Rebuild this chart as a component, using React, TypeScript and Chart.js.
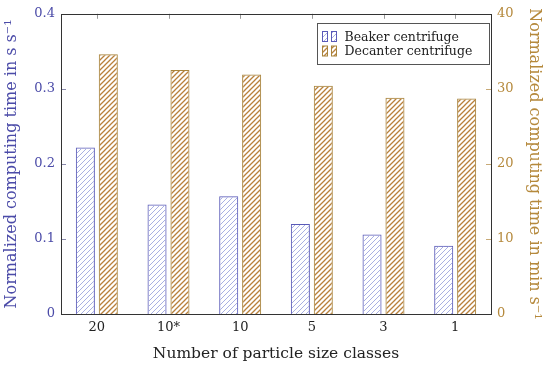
import React, { useEffect, useRef } from "react";
import { Chart, registerables } from "chart.js";

Chart.register(...registerables);

const categories = ["20", "10*", "10", "5", "3", "1"];
const beakerValues = [0.222, 0.146, 0.157, 0.12, 0.106, 0.091];
const decanterValues = [34.6, 32.5, 31.9, 30.4, 28.8, 28.7];
const leftTicks = [0, 0.1, 0.2, 0.3, 0.4];
const rightTicks = [0, 10, 20, 30, 40];
const seriesNames = ["Beaker centrifuge", "Decanter centrifuge"];

const FONT = "'DejaVu Serif', 'Liberation Serif', serif";
const BLUE = "#4b4ba8";
const BROWN = "#b5893c";
const BLUE_BORDER = "#5a5ab8";
const BROWN_BORDER = "#a8843c";

function makeHatch(color: string, size = 5, lw = 1) {
  const c = document.createElement("canvas");
  c.width = size;
  c.height = size;
  const g = c.getContext("2d")!;
  g.strokeStyle = color;
  g.lineWidth = lw;
  g.beginPath();
  g.moveTo(-1, size + 1);
  g.lineTo(size + 1, -1);
  g.moveTo(-1, 1);
  g.lineTo(1, -1);
  g.moveTo(size - 1, size + 1);
  g.lineTo(size + 1, size - 1);
  g.stroke();
  return g.createPattern(c, "repeat")!;
}

const framePlugin = {
  id: "frame",
  afterDatasetsDraw(chart: any) {
    const { ctx, chartArea: a, scales } = chart;
    ctx.save();
    ctx.lineWidth = 1;
    ctx.strokeStyle = "#8888aa";
    ctx.beginPath();
    leftTicks.forEach((t) => {
      const y = Math.round(scales.y.getPixelForValue(t)) + 0.5;
      ctx.moveTo(a.left, y);
      ctx.lineTo(a.left + 5, y);
    });
    ctx.stroke();
    ctx.strokeStyle = "#c8aa77";
    ctx.beginPath();
    rightTicks.forEach((t) => {
      const y = Math.round(scales.y1.getPixelForValue(t)) + 0.5;
      ctx.moveTo(a.right, y);
      ctx.lineTo(a.right - 5, y);
    });
    ctx.stroke();
    ctx.strokeStyle = "#999";
    ctx.beginPath();
    categories.forEach((_, i) => {
      const x = Math.round(scales.x.getPixelForValue(i)) + 0.5;
      ctx.moveTo(x, a.top);
      ctx.lineTo(x, a.top + 5);
    });
    ctx.stroke();
    ctx.strokeStyle = "#333";
    ctx.strokeRect(Math.round(a.left) + 0.5, Math.round(a.top) + 0.5, Math.round(a.right - a.left), Math.round(a.bottom - a.top));

    const bw = 172;
    const bh = 41;
    const bx = Math.round(a.right) - 2 - bw + 0.5;
    const by = Math.round(a.top) + 9 + 0.5;
    ctx.fillStyle = "#fff";
    ctx.fillRect(bx, by, bw, bh);
    ctx.strokeStyle = "#555";
    ctx.strokeRect(bx, by, bw, bh);
    const ds = chart.data.datasets;
    ds.forEach((d: any, i: number) => {
      const cy = by + 13 + i * 14.5;
      [bx + 5, bx + 14].forEach((sx) => {
        ctx.fillStyle = d.backgroundColor;
        ctx.fillRect(sx, cy - 5, 5, 10);
        ctx.strokeStyle = d.borderColor;
        ctx.strokeRect(sx, cy - 5, 5, 10);
      });
      ctx.fillStyle = "#222";
      ctx.font = "12.5px " + FONT;
      ctx.textBaseline = "middle";
      ctx.textAlign = "left";
      ctx.fillText(seriesNames[i], bx + 27, cy + 1);
    });
    ctx.restore();
  },
};

export default function App() {
  const ref = useRef<HTMLCanvasElement | null>(null);
  useEffect(() => {
    document.body.style.margin = "0";
    const chart = new Chart(ref.current!, {
      type: "bar",
      data: {
        labels: categories,
        datasets: [
          {
            label: seriesNames[0],
            data: beakerValues,
            yAxisID: "y",
            backgroundColor: makeHatch("#a9b0e2") as any,
            borderColor: BLUE_BORDER,
            borderWidth: 1,
            categoryPercentage: 0.64,
            barPercentage: 0.83,
          },
          {
            label: seriesNames[1],
            data: decanterValues,
            yAxisID: "y1",
            backgroundColor: makeHatch("#b8803c", 5, 1.3) as any,
            borderColor: BROWN_BORDER,
            borderWidth: 1,
            categoryPercentage: 0.64,
            barPercentage: 0.83,
          },
        ],
      },
      options: {
        animation: false,
        responsive: true,
        maintainAspectRatio: false,
        layout: { padding: { top: 13, left: 0, right: 0, bottom: 0 } },
        plugins: { legend: { display: false }, tooltip: { enabled: false } },
        scales: {
          x: {
            grid: { display: false, drawTicks: false },
            border: { display: false },
            ticks: { color: "#222", font: { family: FONT, size: 13 }, padding: 6 },
            title: {
              display: true,
              text: "Number of particle size classes",
              color: "#222",
              font: { family: FONT, size: 15.5 },
              padding: { top: 2, bottom: 5 },
            },
            afterFit: (s: any) => {
              s.height = 54;
            },
          },
          y: {
            position: "left",
            min: 0,
            max: 0.4,
            grid: { display: false, drawTicks: false },
            border: { display: false },
            ticks: {
              stepSize: 0.1,
              color: BLUE,
              font: { family: FONT, size: 13 },
              padding: 6,
              callback: (v: any) => (v === 0 ? "0" : Number(v).toFixed(1)),
            },
            title: {
              display: true,
              text: "Normalized computing time in s s\u207B\u00B9",
              color: BLUE,
              font: { family: FONT, size: 16 },
              padding: { top: 2, bottom: 0 },
            },
            afterFit: (s: any) => {
              s.width = 61;
            },
          },
          y1: {
            position: "right",
            min: 0,
            max: 40,
            grid: { display: false, drawTicks: false },
            border: { display: false },
            ticks: { stepSize: 10, color: BROWN, font: { family: FONT, size: 13 }, padding: 6 },
            title: {
              display: true,
              text: "Normalized computing time in min s\u207B\u00B9",
              color: BROWN,
              font: { family: FONT, size: 16 },
              padding: { top: 6, bottom: 0 },
            },
            afterFit: (s: any) => {
              s.width = 59;
            },
          },
        },
      },
      plugins: [framePlugin],
    });
    return () => chart.destroy();
  }, []);
  return (
    <div style={{ width: 550, height: 368, position: "relative" }}>
      <canvas ref={ref} />
    </div>
  );
}
